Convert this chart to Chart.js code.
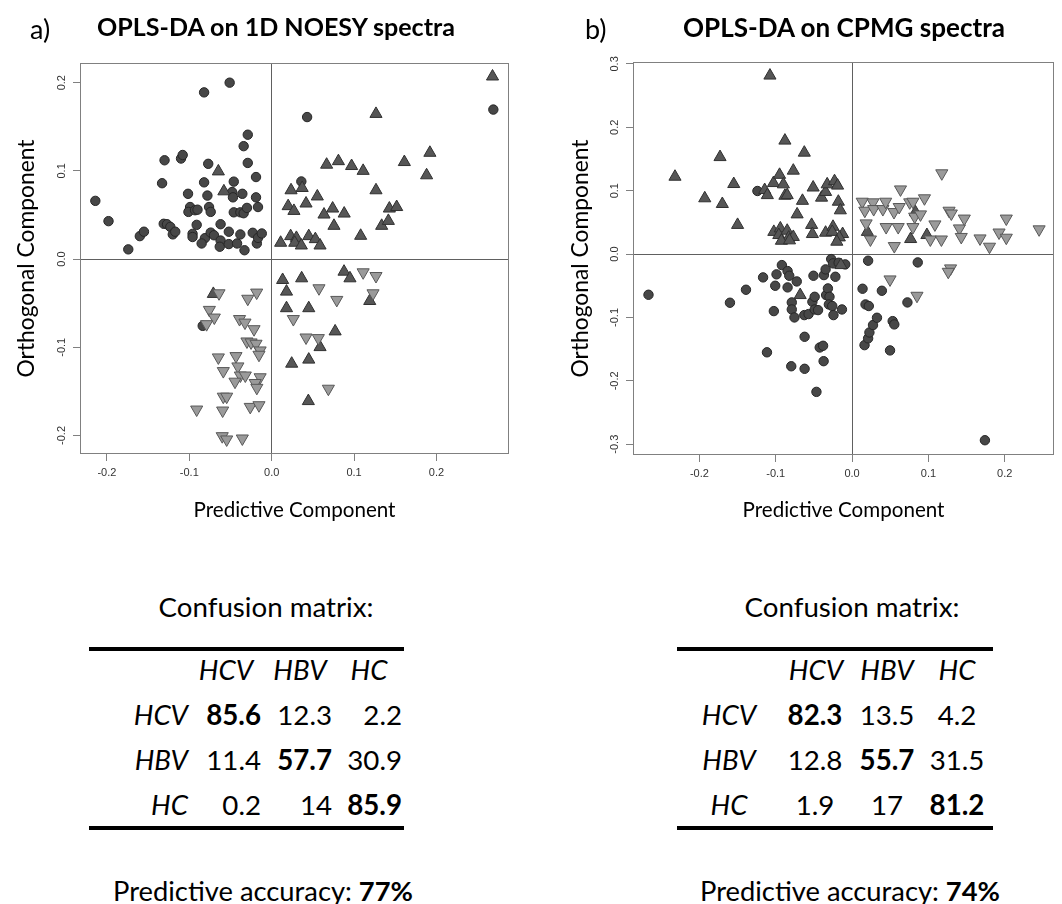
<!DOCTYPE html>
<html><head><meta charset="utf-8">
<script src="https://cdn.jsdelivr.net/npm/chart.js@4/dist/chart.umd.min.js"></script>
<style>
html,body{margin:0;padding:0;background:#fff;width:1062px;height:904px;overflow:hidden;font-family:Lato,"Open Sans",sans-serif;}
.t{position:absolute;white-space:nowrap;line-height:1;color:#000}
canvas{position:absolute;top:0}
.rule{position:absolute;height:4px;background:#000}
</style></head><body>
<canvas id="chartA" width="531" height="540" style="left:0"></canvas>
<canvas id="chartB" width="531" height="540" style="left:531px"></canvas>
<script>
// ---------- DATA ----------
// a) OPLS-DA on 1D NOESY spectra : [predictive, orthogonal]
const noesyCircle = [[-0.214,0.066],[-0.198,0.043],[-0.174,0.011],[-0.160,0.026],[-0.155,0.031],[-0.133,0.086],[-0.130,0.112],[-0.131,0.040],[-0.127,0.0395],[-0.123,0.0365],[-0.120,0.028],[-0.117,0.031],[-0.110,0.114],[-0.108,0.118],[-0.1015,0.074],[-0.099,0.059],[-0.101,0.0535],[-0.093,0.0554],[-0.090,0.056],[-0.091,0.0388],[-0.096,0.0286],[-0.096,0.025],[-0.082,0.189],[-0.077,0.108],[-0.082,0.087],[-0.078,0.072],[-0.076,0.059],[-0.074,0.0535],[-0.081,0.0237],[-0.085,0.0177],[-0.074,0.030],[-0.070,0.027],[-0.062,0.0395],[-0.062,0.021],[-0.063,0.014],[-0.051,0.200],[-0.052,0.031],[-0.052,0.017],[-0.046,0.0878],[-0.048,0.076],[-0.047,0.070],[-0.046,0.053],[-0.042,0.0177],[-0.038,0.053],[-0.038,0.0279],[-0.0356,0.074],[-0.034,0.052],[-0.033,0.010],[-0.030,0.058],[-0.034,0.128],[-0.029,0.141],[-0.029,0.109],[-0.019,0.093],[-0.019,0.070],[-0.0166,0.059],[-0.023,0.0298],[-0.018,0.0177],[-0.0166,0.024],[-0.012,0.029],[0.043,0.161],[0.036,0.088],[0.269,0.1695],[-0.0837,-0.0757]];
const noesyUp = [[-0.0647,0.0994],[-0.058,0.0768],[0.0109,0.0185],[0.0235,0.078],[0.037,0.0806],[0.020,0.060],[0.027,0.0546],[0.0417,0.063],[0.023,0.026],[0.030,0.024],[0.028,0.0185],[0.036,0.0154],[0.045,0.026],[0.053,0.0226],[0.0587,0.0154],[0.0554,0.071],[0.0635,0.0505],[0.0667,0.107],[0.074,0.0573],[0.0756,0.0377],[0.081,0.111],[0.088,0.0516],[0.097,0.1055],[0.111,0.100],[0.1266,0.1646],[0.1266,0.078],[0.108,0.0264],[0.1335,0.0377],[0.1416,0.0433],[0.1428,0.0573],[0.1517,0.059],[0.161,0.110],[0.188,0.095],[0.192,0.1205],[0.268,0.207],[-0.0708,-0.0395],[0.0133,-0.0237],[0.018,-0.0369],[0.0364,-0.0218],[0.018,-0.0557],[0.045,-0.0557],[0.0878,-0.0143],[0.095,-0.0218],[0.119,-0.0475],[0.077,-0.082],[0.0587,-0.0998],[0.0243,-0.1186],[0.045,-0.114],[0.0445,-0.161]];
const noesyDown = [[-0.0639,-0.0388],[-0.0182,-0.038],[-0.029,-0.045],[-0.0756,-0.0576],[-0.0696,-0.0663],[-0.079,-0.0738],[-0.039,-0.068],[-0.0324,-0.072],[-0.0214,-0.0795],[-0.030,-0.0934],[-0.025,-0.0945],[-0.019,-0.096],[-0.014,-0.1036],[-0.0154,-0.1085],[-0.0647,-0.1115],[-0.0433,-0.110],[-0.041,-0.1217],[-0.0587,-0.127],[-0.038,-0.132],[-0.032,-0.132],[-0.0445,-0.139],[-0.014,-0.134],[-0.020,-0.1405],[-0.018,-0.146],[-0.0587,-0.156],[-0.0546,-0.156],[-0.091,-0.1706],[-0.0595,-0.1717],[-0.026,-0.1676],[-0.0154,-0.1657],[-0.060,-0.2008],[-0.0546,-0.2045],[-0.0356,-0.2034],[0.0574,-0.0331],[0.079,-0.0463],[0.0263,-0.068],[0.0417,-0.0889],[0.0566,-0.0896],[0.111,-0.015],[0.1266,-0.0192],[0.123,-0.0388],[0.0688,-0.147]];

// b) OPLS-DA on CPMG spectra
const cpmgCircle = [[-0.124,0.0995],[-0.2667,-0.0642],[-0.160,-0.0768],[-0.139,-0.0563],[-0.1166,-0.0368],[-0.1115,-0.155],[-0.1025,-0.090],[-0.1007,-0.050],[-0.099,-0.032],[-0.092,-0.0174],[-0.0845,-0.0268],[-0.0823,-0.0342],[-0.0845,-0.0526],[-0.0725,-0.0432],[-0.079,-0.0763],[-0.079,-0.0874],[-0.0755,-0.100],[-0.0797,-0.177],[-0.0622,-0.1305],[-0.0622,-0.181],[-0.0626,-0.0963],[-0.057,-0.0947],[-0.0506,-0.0342],[-0.052,-0.0753],[-0.049,-0.0674],[-0.049,-0.0874],[-0.0446,-0.0884],[-0.0467,-0.2174],[-0.0424,-0.1474],[-0.038,-0.1447],[-0.0373,-0.169],[-0.0369,-0.0332],[-0.0347,-0.0242],[-0.034,-0.0647],[-0.0317,-0.0542],[-0.0296,-0.0674],[-0.0304,-0.0795],[-0.026,-0.082],[-0.0274,-0.0079],[-0.0249,-0.0147],[-0.0244,-0.0963],[-0.0219,-0.0358],[-0.0176,-0.0137],[-0.0133,-0.0874],[-0.009,-0.0163],[0.0137,-0.0547],[0.021,-0.0105],[0.0176,-0.0795],[0.0219,-0.082],[0.0163,-0.1437],[0.021,-0.133],[0.0227,-0.1237],[0.0274,-0.112],[0.0326,-0.1005],[0.039,-0.0579],[0.0497,-0.152],[0.0532,-0.1058],[0.0553,-0.111],[0.0725,-0.0763],[0.086,-0.0132],[0.174,-0.2937]];
const cpmgUp = [[-0.232,0.122],[-0.193,0.088],[-0.173,0.153],[-0.170,0.079],[-0.155,0.1105],[-0.150,0.046],[-0.1145,0.101],[-0.111,0.093],[-0.1076,0.2816],[-0.103,0.112],[-0.095,0.125],[-0.090,0.110],[-0.088,0.179],[-0.088,0.092],[-0.085,0.093],[-0.077,0.1316],[-0.065,0.084],[-0.072,0.0626],[-0.0626,0.160],[-0.051,0.105],[-0.040,0.089],[-0.0347,0.098],[-0.0326,0.110],[-0.023,0.115],[-0.019,0.108],[-0.018,0.0826],[-0.0154,0.069],[-0.053,0.046],[-0.052,0.0316],[-0.1025,0.035],[-0.094,0.0405],[-0.096,0.030],[-0.085,0.0368],[-0.083,0.026],[-0.077,0.027],[-0.0926,0.021],[-0.082,0.0216],[-0.0347,0.0337],[-0.025,0.043],[-0.026,0.035],[-0.0124,0.0316],[-0.0167,0.0263],[-0.020,0.0195],[0.020,0.035],[0.0767,0.0237],[0.098,0.030],[0.083,0.066],[-0.068,-0.0647],[-0.0146,-0.0174]];
const cpmgDown = [[0.0133,0.0826],[0.0167,0.0684],[0.0184,0.0484],[0.024,0.023],[0.0274,0.0816],[0.0283,0.071],[0.0403,0.071],[0.044,0.0826],[0.0446,0.0426],[0.0549,0.0663],[0.0553,0.0126],[0.0604,0.0426],[0.0617,0.0742],[0.0634,0.102],[0.0755,0.0816],[0.0797,0.0826],[0.0797,0.0426],[0.082,0.059],[0.0896,0.0626],[0.0948,0.088],[0.1025,0.023],[0.1085,0.0468],[0.117,0.023],[0.1175,0.1274],[0.127,0.0684],[0.130,0.064],[0.1406,0.0405],[0.143,0.027],[0.147,0.056],[0.1676,0.0247],[0.180,0.0116],[0.1925,0.034],[0.202,0.0258],[0.202,0.056],[0.245,0.039],[0.129,-0.0226],[0.126,-0.028],[0.0497,-0.040],[0.085,-0.0658]];

// tick values and labels
const predTicks = [-0.2,-0.1,0,0.1,0.2];
const predTickLabels = ['-0.2','-0.1','0.0','0.1','0.2'];
const noesyOrthTicks = [-0.2,-0.1,0,0.1,0.2];
const noesyOrthTickLabels = ['-0.2','-0.1','0.0','0.1','0.2'];
const cpmgOrthTicks = [-0.3,-0.2,-0.1,0,0.1,0.2,0.3];
const cpmgOrthTickLabels = ['-0.3','-0.2','-0.1','0.0','0.1','0.2','0.3'];

// confusion matrices (%)
const classLabels = ['HCV','HBV','HC'];
const confusionNoesy = [[85.6,12.3,2.2],[11.4,57.7,30.9],[0.2,14,85.9]];
const confusionCpmg = [[82.3,13.5,4.2],[12.8,55.7,31.5],[1.9,17,81.2]];
const accuracyNoesy = '77%';
const accuracyCpmg = '74%';

// ---------- TEXT HELPERS ----------
const FONT = 'Lato';
const mctx = document.createElement('canvas').getContext('2d');
function fit(text, weight, style, target){
  mctx.font = `${style} ${weight} 100px ${FONT}`;
  return 100 * target / mctx.measureText(text).width;
}
function put(parts, x, y, size, align){
  const d = document.createElement('div');
  d.className = 't';
  d.style.left = x + 'px'; d.style.top = y + 'px'; d.style.fontSize = size + 'px';
  const tx = align === 'right' ? '-100%' : align === 'left' ? '0' : '-50%';
  d.style.transform = `translate(${tx},-50%)`;
  for (const p of parts){
    const s = document.createElement('span');
    s.textContent = p.t;
    if (p.b) s.style.fontWeight = '700';
    if (p.i) s.style.fontStyle = 'italic';
    d.appendChild(s);
  }
  document.body.appendChild(d);
}
function rule(x0, x1, y){
  const d = document.createElement('div');
  d.className = 'rule';
  d.style.left = x0 + 'px'; d.style.width = (x1 - x0) + 'px'; d.style.top = (y - 2) + 'px';
  document.body.appendChild(d);
}

// ---------- CHARTS ----------
const xTitleSize = fit('Predictive Component', 'normal', 'normal', 202);
const yTitleSize = fit('Orthogonal Component', 'normal', 'normal', 238);

const framePlugin = {
  id: 'frame',
  beforeDatasetsDraw(chart){
    const {ctx, chartArea: a} = chart;
    ctx.save();
    ctx.strokeStyle = '#808080';
    ctx.lineWidth = 1;
    const l = Math.round(a.left) + 0.5, t = Math.round(a.top) + 0.5;
    const r = Math.round(a.right) - 0.5, b = Math.round(a.bottom) - 0.5;
    ctx.strokeRect(l, t, r - l, b - t);
    ctx.restore();
  }
};

function makeSets(circ, up, down){
  const toXY = arr => arr.map(([x, y]) => ({x, y}));
  return [
    {label:'circle', data: toXY(circ), pointStyle:'circle', pointRadius:4.7, backgroundColor:'#474747', borderColor:'#262626', borderWidth:1, order:3},
    {label:'up', data: toXY(up), pointStyle:'triangle', pointRadius:7, backgroundColor:'#565656', borderColor:'#303030', borderWidth:1, order:2},
    {label:'down', data: toXY(down), pointStyle:'triangle', pointRotation:180, pointRadius:7, backgroundColor:'#9a9a9a', borderColor:'#585858', borderWidth:1, order:1}
  ];
}

function makeChart(id, sets, cfg){
  const gridColor = c => (c.tick && c.tick.value === 0) ? '#606060' : 'rgba(0,0,0,0)';
  const tickFont = {family:'"Liberation Sans", Arial, sans-serif', size:11};
  return new Chart(document.getElementById(id), {
    type: 'scatter',
    data: {datasets: sets},
    plugins: [framePlugin],
    options: {
      responsive: false, animation: false, events: [],
      layout: {padding: cfg.padding},
      plugins: {legend:{display:false}, tooltip:{enabled:false}},
      scales: {
        x: {
          type:'linear', position:'bottom', min: cfg.xMin, max: cfg.xMax,
          afterBuildTicks: s => { s.ticks = cfg.xTicks.map(v => ({value:v})); },
          afterFit: s => { s.height = cfg.xAxisH; },
          ticks: {autoSkip:false, padding:5, color:'#333', font: tickFont, maxRotation:0, minRotation:0,
                  callback: (v, i) => cfg.xTickLabels[i]},
          grid: {drawOnChartArea:true, color: gridColor, tickColor:'#808080', tickLength:7, lineWidth:1},
          border: {display:false},
          title: {display:true, text:'Predictive Component', color:'#000',
                  font:{family:FONT, size:xTitleSize, lineHeight:1.2},
                  padding:{top:0, bottom: 30 - 0.6 * xTitleSize}}
        },
        y: {
          type:'linear', position:'left', min: cfg.yMin, max: cfg.yMax,
          afterBuildTicks: s => { s.ticks = cfg.yTicks.map(v => ({value:v})); },
          afterFit: s => { s.width = cfg.yAxisW; },
          ticks: {autoSkip:false, padding:2, color:'#333', font: tickFont, minRotation:90, maxRotation:90,
                  crossAlign:'center', callback: (v, i) => cfg.yTickLabels[i]},
          grid: {drawOnChartArea:true, color: gridColor, tickColor:'#808080', tickLength:7, lineWidth:1},
          border: {display:false},
          title: {display:true, text:'Orthogonal Component', color:'#000',
                  font:{family:FONT, size:yTitleSize, lineHeight:1.2},
                  padding:{top: cfg.yTitleX - 0.6 * yTitleSize, bottom:0}}
        }
      }
    }
  });
}

makeChart('chartA', makeSets(noesyCircle, noesyUp, noesyDown), {
  padding:{top:63, right:22, left:0, bottom:0}, xAxisH:86, yAxisW:80, yTitleX:27,
  xMin:-0.2326, xMax:0.288, yMin:-0.221, yMax:0.2223,
  xTicks: predTicks, xTickLabels: predTickLabels, yTicks: noesyOrthTicks, yTickLabels: noesyOrthTickLabels
});
makeChart('chartB', makeSets(cpmgCircle, cpmgUp, cpmgDown), {
  padding:{top:62, right:1, left:0, bottom:0}, xAxisH:85, yAxisW:102, yTitleX:50,
  xMin:-0.287, xMax:0.2645, yMin:-0.317, yMax:0.303,
  xTicks: predTicks, xTickLabels: predTickLabels, yTicks: cpmgOrthTicks, yTickLabels: cpmgOrthTickLabels
});

// ---------- TITLES ----------
const titleASize = fit('OPLS-DA on 1D NOESY spectra', '700', 'normal', 360);
const titleBSize = fit('OPLS-DA on CPMG spectra', '700', 'normal', 323);
put([{t:'a)'}], 30, 28, 27, 'left');
put([{t:'OPLS-DA on 1D NOESY spectra', b:true}], 97, 27, titleASize, 'left');
put([{t:'b)'}], 585, 28, 27, 'left');
put([{t:'OPLS-DA on CPMG spectra', b:true}], 683, 27, titleBSize, 'left');

// ---------- CONFUSION TABLES ----------
const tableSize = fit('Confusion matrix:', 'normal', 'normal', 215);
const accSize = (() => {
  mctx.font = `normal 100px ${FONT}`; const w1 = mctx.measureText('Predictive accuracy: ').width;
  mctx.font = `700 100px ${FONT}`; const w2 = mctx.measureText(accuracyNoesy).width;
  return 100 * 300 / (w1 + w2);
})();
const rowsY = [715, 760, 805];
function drawTable(m, acc, L){
  put([{t:'Confusion matrix:'}], L.titleX, 607, tableSize, 'center');
  rule(L.rule[0], L.rule[1], 649);
  classLabels.forEach((c, j) => put([{t:c, i:true}], L.headX[j], 670, tableSize, 'center'));
  m.forEach((row, i) => {
    put([{t:classLabels[i], i:true}], L.rowX, rowsY[i], tableSize, L.rowAlign);
    row.forEach((v, j) => put([{t:String(v), b: i === j}], L.colX[j], rowsY[i], tableSize, L.colAlign));
  });
  rule(L.rule[0], L.rule[1], 828);
  put([{t:'Predictive accuracy: '}, {t:acc, b:true}], L.accX, 891, accSize, 'center');
}
drawTable(confusionNoesy, accuracyNoesy, {titleX:266, rule:[89,404], headX:[226,300,369], rowX:188, rowAlign:'right', colX:[261,332,402], colAlign:'right', accX:263});
drawTable(confusionCpmg, accuracyCpmg, {titleX:852, rule:[677,993], headX:[816,887,957], rowX:729, rowAlign:'center', colX:[815,887,957], colAlign:'center', accX:850});
</script>
</body></html>
